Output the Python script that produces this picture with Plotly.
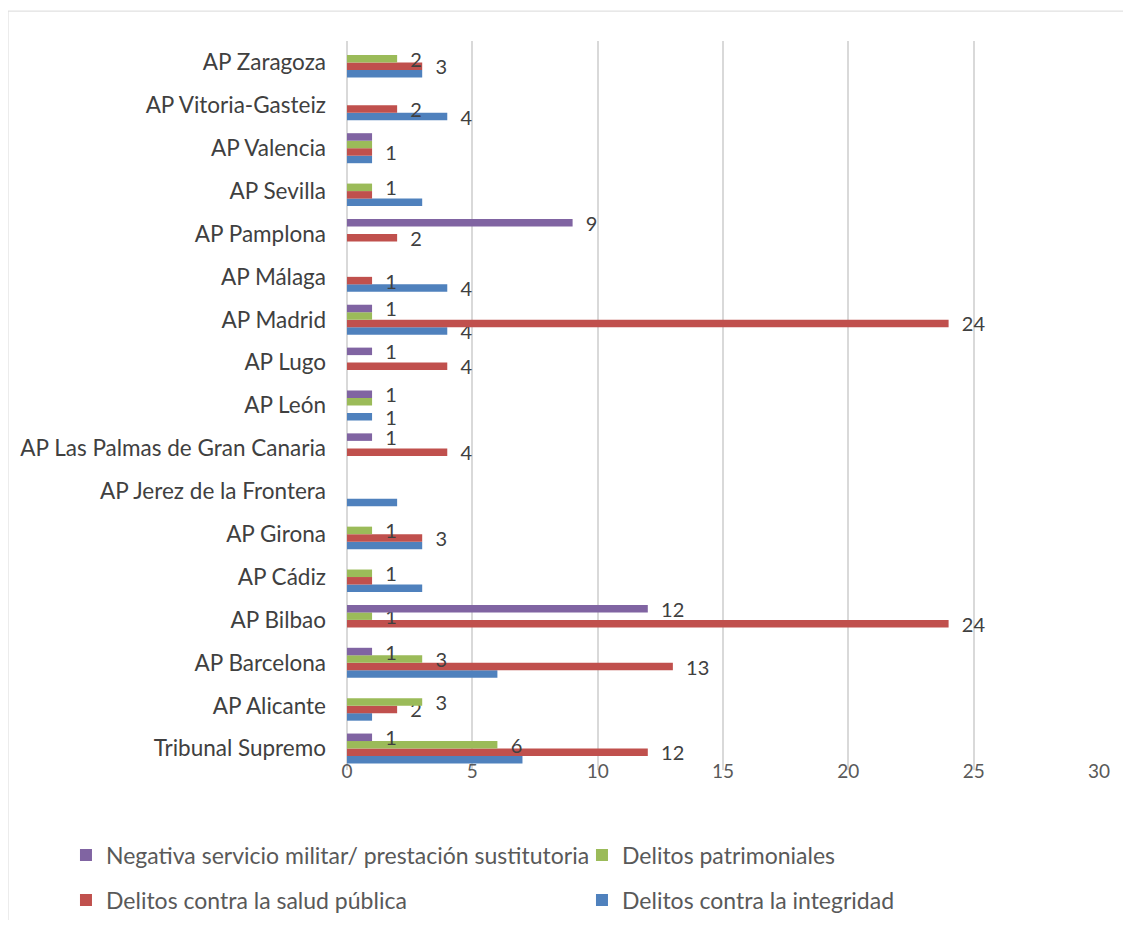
import plotly.graph_objects as go

categories = ["Tribunal Supremo", "AP Alicante", "AP Barcelona", "AP Bilbao", "AP Cádiz",
              "AP Girona", "AP Jerez de la Frontera", "AP Las Palmas de Gran Canaria",
              "AP León", "AP Lugo", "AP Madrid", "AP Málaga", "AP Pamplona", "AP Sevilla",
              "AP Valencia", "AP Vitoria-Gasteiz", "AP Zaragoza"]

integridad = [7, 1, 6, 0, 3, 3, 2, 0, 1, 0, 4, 4, 0, 3, 1, 4, 3]
salud = [12, 2, 13, 24, 1, 3, 0, 4, 0, 4, 24, 1, 2, 1, 1, 2, 3]
patrimoniales = [6, 3, 3, 1, 1, 1, 0, 0, 1, 0, 1, 0, 0, 1, 1, 0, 2]
negativa = [1, 0, 1, 12, 0, 0, 0, 1, 1, 1, 1, 0, 9, 0, 1, 0, 0]

# which bars carry a data label in the original
lab_integridad = [0, 0, 0, 0, 0, 0, 0, 0, 1, 0, 1, 1, 0, 0, 0, 1, 0]
lab_salud = [1, 1, 1, 1, 0, 1, 0, 1, 0, 1, 1, 1, 1, 0, 1, 1, 1]
lab_patrimoniales = [1, 1, 1, 1, 1, 1, 0, 0, 0, 0, 0, 0, 0, 1, 0, 0, 1]
lab_negativa = [1, 0, 1, 1, 0, 0, 0, 1, 1, 1, 1, 0, 1, 0, 0, 0, 0]

series = [
    ("Delitos contra la integridad", integridad, lab_integridad, "#4f81bd", "legend2"),
    ("Delitos contra la salud pública", salud, lab_salud, "#c0504d", "legend2"),
    ("Delitos patrimoniales", patrimoniales, lab_patrimoniales, "#9bbb59", "legend"),
    ("Negativa servicio militar/ prestación sustitutoria", negativa, lab_negativa, "#8064a2", "legend"),
]

FONT = "Lato"
fig = go.Figure()
for name, vals, labs, color, leg in series:
    text = ["  " + str(v) if l else "" for v, l in zip(vals, labs)]
    fig.add_trace(go.Bar(
        y=categories, x=vals, orientation="h", name=name,
        marker=dict(color=color, line=dict(width=0)),
        text=text, textposition="outside", cliponaxis=False,
        textfont=dict(family=FONT, size=20, color="#404040"),
        legend=leg,
    ))

legend_common = dict(orientation="h", x=-0.3737, xanchor="left", yanchor="middle",
                     entrywidth=471, traceorder="reversed",
                     font=dict(size=23, color="#595959"), itemwidth=30)

fig.update_layout(
    width=1115, height=912,
    barmode="group", bargap=0.3, bargroupgap=0,
    plot_bgcolor="white", paper_bgcolor="white",
    margin=dict(l=339, r=24, t=33, b=150, autoexpand=False),
    font=dict(family=FONT, color="#404040"),
    xaxis=dict(range=[0, 30], dtick=5, showgrid=True, gridcolor="#d9d9d9", gridwidth=1.5,
               zeroline=True, zerolinecolor="#d9d9d9", zerolinewidth=1.5,
               tickfont=dict(size=19, color="#595959"), ticks="", ticklabelstandoff=-12,
               fixedrange=True),
    yaxis=dict(type="category", showgrid=False, ticks="", ticklabelstandoff=20,
               tickfont=dict(size=22.5, color="#404040")),
    legend=dict(**legend_common, y=-0.1166),
    legend2=dict(**legend_common, y=-0.1783),
    shapes=[dict(type="rect", xref="paper", yref="paper", x0=-0.4508, x1=1.2, y0=-0.4, y1=1.041,
                 line=dict(color="#d9d9d9", width=1), fillcolor="rgba(0,0,0,0)", layer="below")],
)
fig.update_traces(constraintext="none")
fig.write_html("out.html")
